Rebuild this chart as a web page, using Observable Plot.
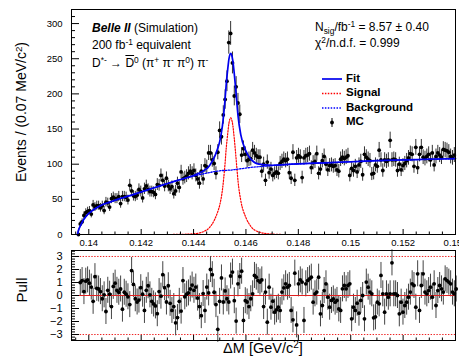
<!DOCTYPE html>
<html><head><meta charset="utf-8">
<script src="https://cdn.jsdelivr.net/npm/d3@7"></script>
<script src="https://cdn.jsdelivr.net/npm/@observablehq/plot@0.6"></script>
<style>
body{margin:0;background:#fff;}
#wrap{position:relative;width:459px;height:358px;overflow:hidden;background:#fff;font-family:"Liberation Sans",Arial,Helvetica,sans-serif;color:#000;}
#wrap svg.plt{position:absolute;left:0;}
.t{position:absolute;white-space:nowrap;line-height:1;font-size:12px;}
.sp{position:relative;top:-0.45em;font-size:0.7em;}
.sb{position:relative;top:0.3em;font-size:0.7em;}
.b{font-weight:bold;}
.rot{position:absolute;white-space:nowrap;line-height:1;transform:translate(-50%,-50%) rotate(-90deg);}
</style></head><body><div id="wrap"></div><script>
// ---- data ----
const binStart = 0.13957, binWidth = 0.00007;
const counts = [0,
15,18,27,31,33,34,29,42,39,41,
41,38,41,34,46,45,39,51,53,51,
51,54,44,54,54,53,49,70,62,55,
54,56,64,61,52,65,69,64,61,61,
60,57,71,70,84,77,69,80,69,65,
68,58,62,73,67,89,79,81,83,87,
90,87,91,84,79,73,90,79,98,96,
116,116,106,101,87,117,148,139,170,192,
218,273,286,244,197,210,187,171,113,122,
114,105,107,108,120,116,112,110,110,90,
100,77,103,88,93,84,87,89,87,101,
104,107,105,107,88,80,117,77,109,112,
110,81,109,112,113,115,95,102,104,115,
87,93,105,111,100,92,98,99,97,98,
92,90,107,110,108,110,112,84,94,91,
97,89,99,104,85,114,110,107,105,86,
87,99,97,120,106,91,106,104,106,134,
106,107,106,91,100,92,98,101,105,109,
115,114,97,124,95,114,124,110,108,111,
114,106,116,99,111,116,113,110,121,120,
119,117,111,109,113];
const pulls = [
1.0,1.15,0.3,1.1,1.2,0.95,0.65,-0.45,1.45,0.55,
0.5,0.3,-0.25,0.05,-1.23,0.4,0.1,-0.85,0.7,0.95,
0.4,0.25,0.5,-1.05,0.25,0.1,-0.1,-0.7,1.92,0.85,
-0.25,-0.5,-0.35,0.6,0.1,-1.15,0.4,0.75,0.05,-0.45,
-0.65,-0.8,-1.4,0.3,-0.05,1.6,0.6,-0.5,0.75,-0.6,
-1.15,-0.85,-2.1,-1.7,-0.45,-1.2,1.15,-0.1,0.1,0.2,
0.5,0.8,0.4,0.65,-0.2,-0.85,-1.55,0.15,-1.15,0.65,
0.2,2.0,1.6,0.25,-0.7,-2.6,-0.45,1.35,-0.5,0.35,
-0.25,-0.5,1.5,1.8,-0.4,-1.97,0.9,1.46,1.87,-1.92,
-0.4,-0.5,-0.85,-0.25,0.13,1.54,1.41,1.15,1.03,1.2,
-0.85,0.26,-2.05,0.64,-0.9,-0.44,-1.28,-1.1,-0.9,-1.15,
0.26,0.59,0.9,0.64,0.77,-1.15,-1.87,1.72,-2.26,0.9,
1.2,1.03,-1.92,0.9,1.15,1.28,1.41,-0.51,0.13,0.26,
1.41,-1.41,-0.77,0.38,0.9,-0.13,-0.9,-0.38,-0.26,-0.51,
-0.38,-1.03,-1.15,0.51,0.77,0.51,0.77,0.9,-1.79,-0.9,
-1.15,-0.59,-1.36,-0.38,0,-1.79,1.03,0.64,0.26,0.13,
-1.72,-1.64,-0.51,-0.64,1.54,0.13,-1.28,0.13,-0.13,0.13,
2.51,0.13,0.13,0,-1.41,-0.51,-1.28,-0.77,-0.51,-0.13,
0.26,0.9,0.77,-0.9,1.67,-1.15,0.77,1.67,0.26,0.13,
0.38,0.64,-0.13,0.9,-0.77,0.38,0.77,0.51,0.26,1.28,
1.15,1.03,0.9,0.26,0.13,0.5];
const curveX = [0.13957,0.1396,0.13965,0.1397,0.1398,0.1399,0.14,0.1401,0.1403,0.1405,
0.1408,0.1411,0.1415,0.142,0.1425,0.143,0.1435,0.144,0.1442,0.1444,
0.1446,0.1448,0.1449,0.145,0.1451,0.1452,0.14525,0.1453,0.14535,0.14542,
0.14545,0.1455,0.14555,0.1456,0.14565,0.1457,0.1458,0.146,0.1462,0.1465,
0.147,0.1475,0.148,0.149,0.15,0.151,0.152,0.153,0.154];
const bgCurve = [0,5,10,14,21,26,30,33,38,42,
46,50,54.5,60.5,66.5,72.5,78,83,85,86.5,
88,89.5,90,90.5,91,91,91.2,91.5,91.5,91.6,
91.7,92,92.2,92.5,92.7,93,93.5,94.5,95.5,96.5,
98,99.5,100.5,102,103.5,105,106,107,108];
const sigCurve = [0,0,0,0,0,0,0,0,0,0,
0,0,0,0,0,0,0.2,1,2,4.5,
9.5,21,30,42,63,100,124,142,158,166,
164,155,138,118,96,75,49,24,11,3.5,
0.5,0,0,0,0,0,0,0,0];
const fitCurve = [0,5,10,14,21,26,30,33,38,42,
46,50,54.5,60.5,66.5,72.5,78.2,84,87,91,
97.5,110.5,120,132.5,154,191,215.2,233.5,249.5,257.6,
255.7,247,230.2,210.5,188.7,168,142.5,118.5,106.5,100,
98.5,99.5,100.5,102,103.5,105,106,107,108];
const xTicks = [0.14,0.142,0.144,0.146,0.148,0.15,0.152,0.154];
const yTicks = [0,50,100,150,200,250,300];
const pullTicks = [-3,-2,-1,0,1,2,3];

// ---- build ----
const bins = counts.map((n,i)=>({x: binStart+(i+0.5)*binWidth, n, e: Math.sqrt(n)}));
const pullData = pulls.map((p,i)=>({x: binStart+(i+1.5)*binWidth, p}));
const curve = curveX.map((x,i)=>({x, bg: bgCurve[i], sig: sigCurve[i], fit: fitCurve[i]}));
const xMinor = d3.range(0, 30).map(k=>0.1395+k*0.0005).filter(v=>v<=0.15401 && !xTicks.some(t=>Math.abs(t-v)<1e-7));
const yMinor = d3.range(0, 321, 10).filter(v=>v%50!==0);
const pMinor = d3.range(-17, 18).map(k=>k*0.2).filter(v=>Math.abs(v-Math.round(v))>1e-6);
const minusFmt = d => d < 0 ? "\u2212" + (-d) : String(d);

const W=459, L=71, R=4;
const xDomain=[0.13934,0.154];
const fnt='"Liberation Sans", Arial, Helvetica, sans-serif';
const mainH=248, mT=9, mB=14, fh1=mainH-mT-mB, fw=W-L-R;

const main = Plot.plot({
  width:W, height:mainH, marginLeft:L, marginRight:R, marginTop:mT, marginBottom:mB,
  style:{fontFamily:fnt, fontSize:"9.5px", color:"#000", background:"transparent"},
  x:{domain:xDomain}, y:{domain:[0,320]},
  marks:[
    Plot.ruleX(bins,{x:"x", y1:d=>d.n-d.e, y2:d=>d.n+d.e, stroke:"#333", strokeWidth:1}),
    Plot.dot(bins,{x:"x", y:"n", r:1.9, fill:"#000", stroke:null}),
    Plot.line(curve,{x:"x", y:"sig", stroke:"#ff0000", strokeWidth:1.2, strokeDasharray:"1.4,1.5", curve:"monotone-x"}),
    Plot.line(curve,{x:"x", y:"bg", stroke:"#0000ff", strokeWidth:1.3, strokeDasharray:"1.4,1.5", curve:"monotone-x"}),
    Plot.line(curve,{x:"x", y:"fit", stroke:"#0000ee", strokeWidth:1.7, curve:"monotone-x"}),
    Plot.tickX(xMinor,{x:d=>d, insetTop:fh1-2.5, stroke:"#000"}),
    Plot.tickX(xTicks,{x:d=>d, insetTop:fh1-5, stroke:"#000"}),
    Plot.tickY(yMinor,{y:d=>d, insetRight:fw-4, stroke:"#000"}),
    Plot.tickY(yTicks,{y:d=>d, insetRight:fw-8, stroke:"#000"}),
    Plot.axisX({ticks:xTicks, tickSize:0, tickPadding:5, label:null, tickFormat:d=>String(d)}),
    Plot.axisY({ticks:yTicks, tickSize:0, tickPadding:9, label:null, tickFormat:d=>String(d)}),
    Plot.frame({stroke:"#000", strokeWidth:1})
  ]
});
main.classList.add("plt"); main.style.top="0px";

const pH=110, pT=2, pB=18, fh2=pH-pT-pB;
const pull = Plot.plot({
  width:W, height:pH, marginLeft:L, marginRight:R, marginTop:pT, marginBottom:pB,
  style:{fontFamily:fnt, fontSize:"11px", color:"#000", background:"transparent"},
  x:{domain:xDomain, axis:null}, y:{domain:[-3.46,3.46], axis:null},
  marks:[
    Plot.ruleY([-3,3],{stroke:"#ee2222", strokeWidth:1, strokeDasharray:"1.4,1.5"}),
    Plot.ruleX(pullData,{x:"x", y1:d=>d.p-1, y2:d=>d.p+1, stroke:"#444", strokeWidth:1}),
    Plot.ruleY([0],{stroke:"#e02020", strokeWidth:1}),
    Plot.dot(pullData,{x:"x", y:"p", r:1.9, fill:"#000", stroke:null}),
    Plot.tickX(xMinor,{x:d=>d, insetTop:fh2-2.5, stroke:"#000"}),
    Plot.tickX(xTicks,{x:d=>d, insetTop:fh2-5, stroke:"#000"}),
    Plot.tickY(pMinor,{y:d=>d, insetRight:fw-4, stroke:"#000"}),
    Plot.tickY(pullTicks,{y:d=>d, insetRight:fw-8, stroke:"#000"}),
    Plot.axisY({ticks:pullTicks, tickSize:0, tickPadding:9, label:null, tickFormat:minusFmt}),
    Plot.frame({stroke:"#000", strokeWidth:1})
  ]
});
pull.classList.add("plt"); pull.style.top=mainH+"px";

const wrap=document.getElementById("wrap");
wrap.appendChild(main); wrap.appendChild(pull);

function addText(html, left, top, size, extra){
  const d=document.createElement("div"); d.className="t"; d.innerHTML=html;
  d.style.left=left+"px"; d.style.top=top+"px"; d.style.fontSize=size+"px";
  if(extra) Object.assign(d.style, extra);
  wrap.appendChild(d); return d;
}
function addRot(html, cx, cy, size){
  const d=document.createElement("div"); d.className="rot"; d.innerHTML=html;
  d.style.left=cx+"px"; d.style.top=cy+"px"; d.style.fontSize=size+"px";
  wrap.appendChild(d); return d;
}
// annotations
addText('<span class="b" style="font-style:italic">Belle II</span> (Simulation)', 92, 22, 12);
addText('200 fb<span class="sp">-1</span> equivalent', 92, 39, 12);
addText('D<span class="sp">*-</span> &rarr; <span style="text-decoration:overline">D</span><span class="sp">0</span> (&pi;<span class="sp">+</span> &pi;<span class="sp">-</span> &pi;<span class="sp">0</span>) &pi;<span class="sp">-</span>', 92, 57, 12);
addText('N<span class="sb">sig</span>/fb<span class="sp">-1</span> = 8.57 &plusmn; 0.40', 315, 21, 12);
addText('&chi;<span class="sp">2</span>/n.d.f. = 0.999', 315, 37, 12);
// legend
const legRows=[{t:"Fit",y:79},{t:"Signal",y:93.5},{t:"Background",y:108},{t:"MC",y:122.5}];
legRows.forEach(r=>addText(r.t, 346, r.y-6.3, 11.5, {fontWeight:"bold"}));
const leg=d3.select(wrap).append("svg").attr("width",W).attr("height",358)
  .style("position","absolute").style("left","0px").style("top","0px").style("pointer-events","none");
leg.append("line").attr("x1",322).attr("x2",342).attr("y1",79).attr("y2",79).attr("stroke","#0000ee").attr("stroke-width",1.7);
leg.append("line").attr("x1",322).attr("x2",342).attr("y1",93.5).attr("y2",93.5).attr("stroke","#ff0000").attr("stroke-width",1.4).attr("stroke-dasharray","1.5,1.4");
leg.append("line").attr("x1",322).attr("x2",342).attr("y1",108).attr("y2",108).attr("stroke","#0000ff").attr("stroke-width",1.4).attr("stroke-dasharray","1.5,1.4");
leg.append("line").attr("x1",332).attr("x2",332).attr("y1",118).attr("y2",127).attr("stroke","#000");
leg.append("circle").attr("cx",332).attr("cy",122.5).attr("r",1.9).attr("fill","#000");
// axis titles
addRot('Events / (0.07 MeV/c<span class="sp">2</span>)', 21, 112, 14);
addRot('Pull', 21, 290, 15);
addText('&Delta;M [GeV/c<span class="sp">2</span>]', 0, 341, 14.5, {width:"526px", textAlign:"center"});
</script></body></html>
